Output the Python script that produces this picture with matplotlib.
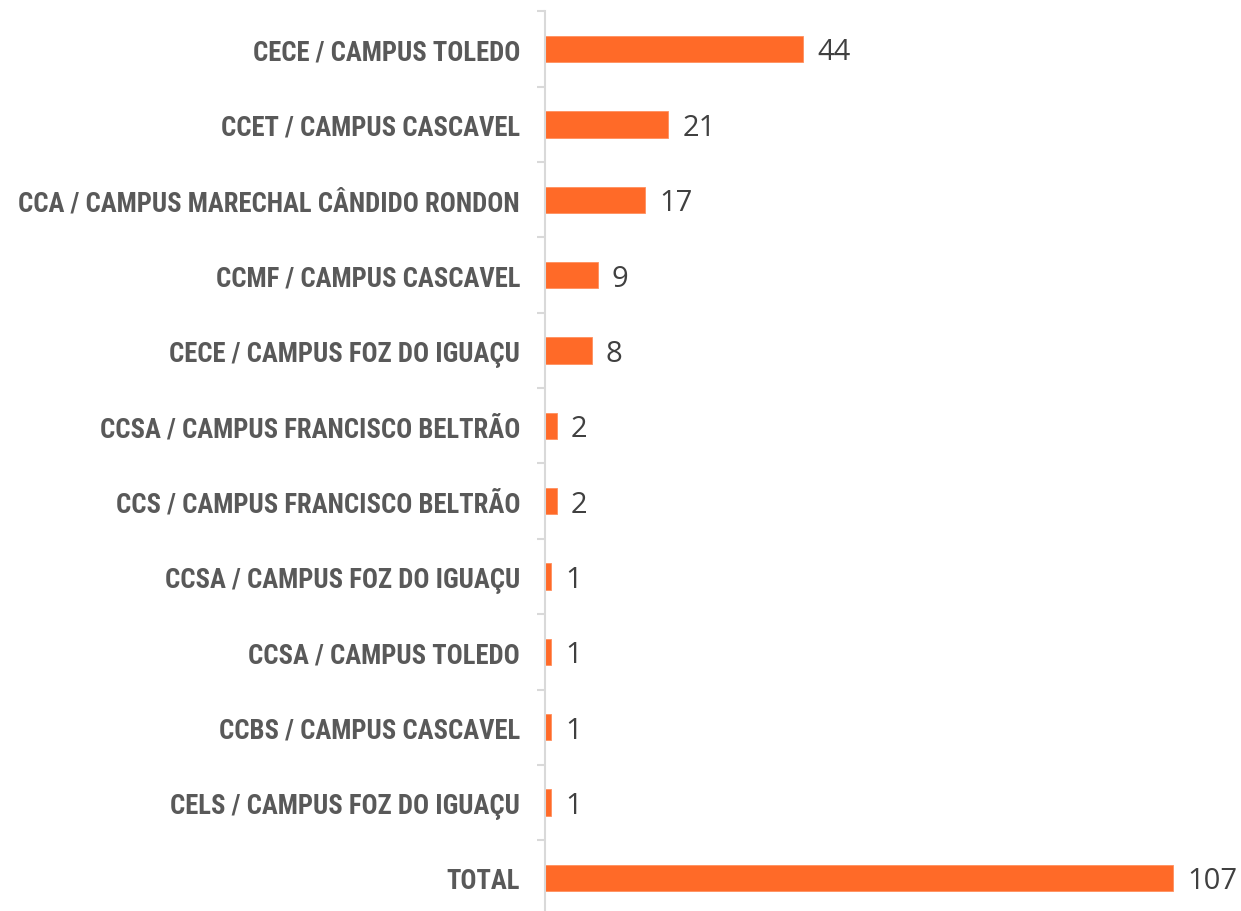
import matplotlib
matplotlib.use("Agg")
import matplotlib.pyplot as plt
from matplotlib import font_manager
import numpy as np

categories = [
    "CECE / CAMPUS TOLEDO",
    "CCET / CAMPUS CASCAVEL",
    "CCA / CAMPUS MARECHAL CÂNDIDO RONDON",
    "CCMF / CAMPUS CASCAVEL",
    "CECE / CAMPUS FOZ DO IGUAÇU",
    "CCSA / CAMPUS FRANCISCO BELTRÃO",
    "CCS / CAMPUS FRANCISCO BELTRÃO",
    "CCSA / CAMPUS FOZ DO IGUAÇU",
    "CCSA / CAMPUS TOLEDO",
    "CCBS / CAMPUS CASCAVEL",
    "CELS / CAMPUS FOZ DO IGUAÇU",
    "TOTAL",
]
values = [44, 21, 17, 9, 8, 2, 2, 1, 1, 1, 1, 107]

# ---- pick a condensed bold font if one is available ----
ttf = font_manager.fontManager.ttflist
names = {f.name for f in ttf}
label_family = None
label_stretch = "normal"
for cand in ["Liberation Sans Narrow", "Arial Narrow", "Roboto Condensed",
             "Open Sans Condensed", "Noto Sans Condensed", "Noto Sans Display Condensed"]:
    if cand in names:
        label_family = cand
        break
if label_family is None:
    condensed = [f for f in ttf if f.name in ("DejaVu Sans", "Noto Sans", "Open Sans", "Roboto")
                 and str(f.stretch) not in ("normal", "400", "500")]
    if condensed:
        label_family = condensed[0].name
        label_stretch = "condensed"
    elif "Liberation Sans" in names:
        label_family = "Liberation Sans"
    else:
        label_family = "DejaVu Sans"

W, H = 1241, 912
fig = plt.figure(figsize=(W / 100, H / 100), dpi=100)
left = 545 / W
top_px = 12.3
bot_px = 916.6
ax = fig.add_axes([left, 1 - bot_px / H, 1 - left, (bot_px - top_px) / H])

n = len(categories)
y = np.arange(n)
bar_color = "#FF6A28"
ax.barh(y, values, height=0.35, color=bar_color, edgecolor="#FF8F5E", linewidth=0.6)
ax.set_ylim(n - 0.5, -0.5)
ax.set_xlim(0, 118.5)

for s in ["top", "right", "bottom"]:
    ax.spines[s].set_visible(False)
ax.spines["left"].set_color("#D9D9D9")
ax.spines["left"].set_linewidth(1.5)
ax.set_xticks([])

ax.set_yticks(y)
ax.set_yticklabels(categories)
ax.tick_params(axis="y", which="major", length=0, pad=18)
ax.set_yticks(np.arange(-0.5, n, 1.0), minor=True)
ax.tick_params(axis="y", which="minor", length=6, width=1.5, color="#D9D9D9")

for t in ax.get_yticklabels():
    t.set_fontfamily([label_family, "DejaVu Sans"])
    t.set_fontweight("bold")
    t.set_fontstretch(label_stretch)
    t.set_fontsize(17)
    t.set_color("#595959")

# size the labels so the longest one is as wide as in the reference (~502 px)
fig.canvas.draw()
renderer = fig.canvas.get_renderer()
maxw = max(t.get_window_extent(renderer).width for t in ax.get_yticklabels())
fs = min(17 * 502 / maxw, 20)
for t in ax.get_yticklabels():
    t.set_fontsize(fs)

for yi, v in zip(y, values):
    ax.annotate(str(v), xy=(v, yi), xytext=(14, -3), textcoords="offset pixels",
                va="center", ha="left", fontsize=21, color="#404040",
                fontfamily=["Open Sans", "DejaVu Sans"])

fig.savefig("out.png", dpi=100)
